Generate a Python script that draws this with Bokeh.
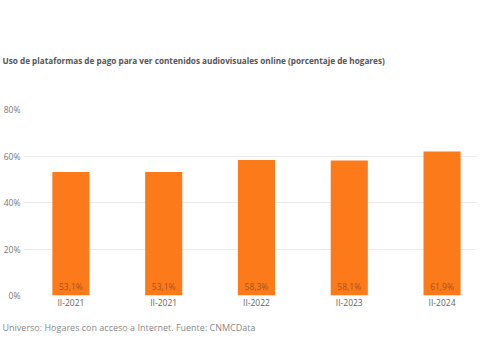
from bokeh.plotting import figure
from bokeh.models import ColumnDataSource, Title, PrintfTickFormatter, FixedTicker, Range1d
from bokeh.core.properties import value
from bokeh.embed import file_html
from bokeh.resources import INLINE

categories = ["II-2021", "II-2021", "II-2022", "II-2023", "II-2024"]
values = [53.1, 53.1, 58.3, 58.1, 61.9]
y_ticks = [0, 20, 40, 60, 80]

xs = list(range(len(categories)))
labels = [f"{v:.1f}%".replace(".", ",") for v in values]
src = ColumnDataSource(dict(x=xs, top=values, label=labels))

p = figure(width=477, height=341, output_backend="svg", toolbar_location=None,
           x_range=Range1d(-0.511, 4.382), y_range=Range1d(0, 80),
           min_border_left=10, min_border_right=0, min_border_top=109, min_border_bottom=0)
p.outline_line_color = None
p.background_fill_color = "white"

p.vbar(x="x", top="top", width=0.4, bottom=0, source=src, color="#fd7a1b", line_color=None)
p.text(x="x", y=0, text="label", source=src, text_align="center", text_baseline="bottom",
       y_offset=-4, text_font=value("Open Sans"), text_font_size="8.5px", text_color="#a4541c")

p.title.text = "Uso de plataformas de pago para ver contenidos audiovisuales online (porcentaje de hogares)"
p.title.text_font = "Open Sans"
p.title.text_font_style = "bold"
p.title.text_font_size = "8.2px"
p.title.text_color = "#555555"
p.title.align = "left"
p.title.standoff = 88
p.title.offset = -21

foot = Title(text="Universo: Hogares con acceso a Internet. Fuente: CNMCData", align="left",
             text_font="Open Sans", text_font_style="normal", text_font_size="9px",
             text_color="#8a8a8a", standoff=16, offset=-21)
p.add_layout(foot, "below")

p.yaxis.ticker = FixedTicker(ticks=y_ticks)
p.yaxis.formatter = PrintfTickFormatter(format="%d%%")
p.yaxis.axis_line_color = None
p.yaxis.major_tick_line_color = None
p.yaxis.minor_tick_line_color = None
p.yaxis.major_tick_out = 0
p.yaxis.major_tick_in = 0
p.yaxis.major_label_text_font = "Open Sans"
p.yaxis.major_label_text_font_size = "8.5px"
p.yaxis.major_label_text_color = "#777777"
p.yaxis.major_label_standoff = 3

p.xaxis.ticker = FixedTicker(ticks=xs)
p.xaxis.major_label_overrides = {i: c for i, c in enumerate(categories)}
p.xaxis.axis_line_color = None
p.xaxis.major_tick_line_color = None
p.xaxis.minor_tick_line_color = None
p.xaxis.major_tick_out = 0
p.xaxis.major_tick_in = 0
p.xaxis.major_label_text_font = "Open Sans"
p.xaxis.major_label_text_font_size = "8.5px"
p.xaxis.major_label_text_color = "#666666"
p.xaxis.major_label_standoff = 1

p.xgrid.grid_line_color = None
p.ygrid.grid_line_color = "#ececec"

open("out.html", "w").write(file_html(p, INLINE))
